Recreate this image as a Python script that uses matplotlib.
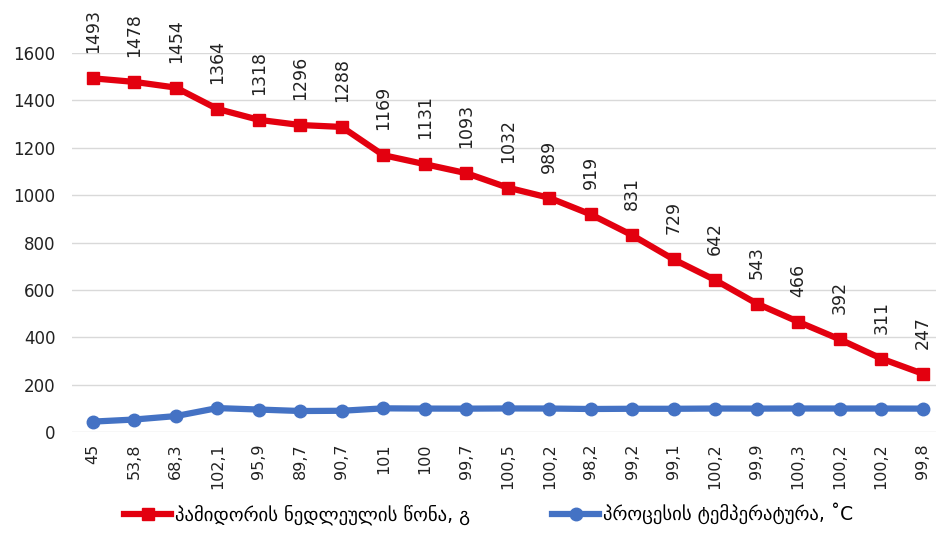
import matplotlib.pyplot as plt

# process temperature (C) and raw tomato weight (g) per measurement
temps = [45, 53.8, 68.3, 102.1, 95.9, 89.7, 90.7, 101, 100, 99.7, 100.5,
         100.2, 98.2, 99.2, 99.1, 100.2, 99.9, 100.3, 100.2, 100.2, 99.8]
weights = [1493, 1478, 1454, 1364, 1318, 1296, 1288, 1169, 1131, 1093, 1032,
           989, 919, 831, 729, 642, 543, 466, 392, 311, 247]
tick_labels = [str(t).replace('.', ',') for t in temps]
weight_label = 'პამიდორის ნედლეულის წონა, გ'
temp_label = 'პროცესის ტემპერატურა, ˚C'

plt.rcParams['font.family'] = ['DejaVu Sans']

fig = plt.figure(figsize=(9.36, 5.35), dpi=100)
ax = fig.add_axes([0.077, 0.192, 0.923, 0.709])

x = list(range(len(temps)))
ax.plot(x, weights, color='#e3000f', lw=4.5, marker='s', ms=9,
        label=weight_label, zorder=3)
ax.plot(x, temps, color='#4472c4', lw=4.5, marker='o', ms=9,
        label=temp_label, zorder=3)

for xi, w in zip(x, weights):
    ax.annotate(str(w), (xi, w), xytext=(0, 18), textcoords='offset points',
                rotation=90, ha='center', va='bottom', fontsize=12.5,
                color='#222222', annotation_clip=False)

ax.set_ylim(0, 1600)
ax.set_yticks(range(0, 1601, 200))
ax.set_xlim(-0.5, 20.32)
ax.set_xticks(x)
ax.set_xticklabels(tick_labels, rotation=90, fontsize=11.5, color='#222222')
ax.tick_params(axis='y', labelsize=12, colors='#222222', length=0, pad=12)
ax.tick_params(axis='x', length=0, pad=8)
ax.grid(axis='y', color='#d9d9d9', lw=1)
ax.set_axisbelow(True)
for s in ax.spines.values():
    s.set_visible(False)

fig.legend(loc='lower center', bbox_to_anchor=(0.522, -0.012), ncol=2,
           frameon=False, fontsize=13.5, handlelength=2.5, handletextpad=0.2,
           columnspacing=4.4)

fig.savefig('out.png', dpi=100)
